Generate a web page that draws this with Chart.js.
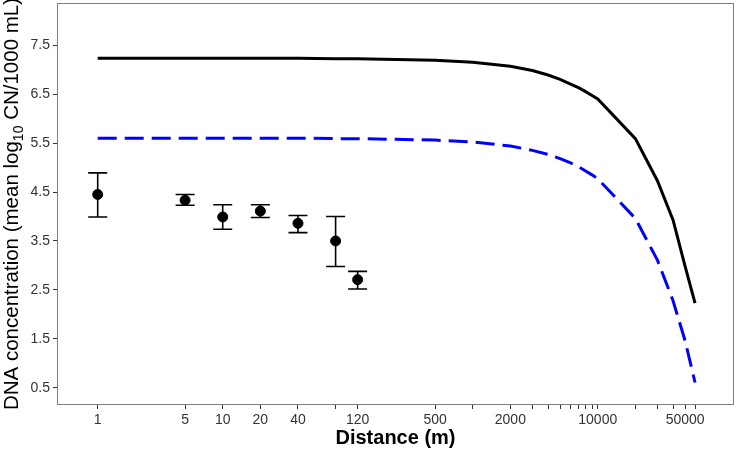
<!DOCTYPE html>
<html><head><meta charset="utf-8">
<script src="https://cdn.jsdelivr.net/npm/chart.js@4.4.1/dist/chart.umd.min.js"></script>
<style>html,body{margin:0;padding:0;background:#fff;} #wrap{width:736px;height:449px;position:relative;}</style>
</head><body><div id="wrap"><canvas id="c" width="736" height="449"></canvas></div>
<script>
const obsDistance = [1, 5, 10, 20, 40, 80, 120];
const obsMean = [4.45, 4.33, 3.99, 4.11, 3.86, 3.50, 2.71];
const obsLow  = [3.99, 4.23, 3.74, 3.98, 3.67, 2.98, 2.52];
const obsHigh = [4.89, 4.45, 4.24, 4.24, 4.02, 4.00, 2.88];

const curveDistance = [1, 5, 10, 20, 40, 80, 120, 500, 1000, 2000, 3000, 4000, 5000, 6000, 7000, 8000, 9000, 10000, 20000, 30000, 40000, 50000, 60000];
const blackCurve = [7.23, 7.23, 7.23, 7.23, 7.23, 7.22, 7.22, 7.19, 7.15, 7.07, 6.98, 6.89, 6.80, 6.71, 6.63, 6.55, 6.47, 6.40, 5.59, 4.73, 3.93, 2.98, 2.23];
const blueCurve  = [5.60, 5.60, 5.60, 5.60, 5.60, 5.59, 5.59, 5.56, 5.52, 5.44, 5.35, 5.27, 5.18, 5.10, 5.02, 4.93, 4.85, 4.77, 3.96, 3.11, 2.28, 1.46, 0.61];

const xTickValues = [1, 5, 10, 20, 40, 80, 120, 500, 1000, 2000, 3000, 4000, 5000, 6000, 7000, 8000, 9000, 10000, 20000, 30000, 40000, 50000, 60000];
const xTickLabels = ['1', '5', '10', '20', '40', '', '120', '500', '', '2000', '', '', '', '', '', '', '', '10000', '', '', '', '50000', ''];
const yTickValues = [0.5, 1.5, 2.5, 3.5, 4.5, 5.5, 6.5, 7.5];
const yTickLabels = ['0.5', '1.5', '2.5', '3.5', '4.5', '5.5', '6.5', '7.5'];

const FONT = "'Liberation Sans', Arial, Helvetica, sans-serif";

const errorBars = {
  id: 'errorBars',
  beforeDatasetsDraw(chart) {
    const {ctx, scales: {x, y}} = chart;
    ctx.save();
    ctx.strokeStyle = '#000';
    ctx.lineWidth = 1.6;
    for (let i = 0; i < obsDistance.length; i++) {
      const px = x.getPixelForValue(obsDistance[i]);
      const lo = y.getPixelForValue(obsLow[i]);
      const hi = y.getPixelForValue(obsHigh[i]);
      ctx.beginPath();
      ctx.moveTo(px, lo); ctx.lineTo(px, hi);
      ctx.moveTo(px - 9.5, lo); ctx.lineTo(px + 9.5, lo);
      ctx.moveTo(px - 9.5, hi); ctx.lineTo(px + 9.5, hi);
      ctx.stroke();
    }
    ctx.restore();
  }
};

const frameAndTitles = {
  id: 'frameAndTitles',
  afterDraw(chart) {
    const {ctx, chartArea: a} = chart;
    ctx.save();
    ctx.strokeStyle = '#7f7f7f';
    ctx.lineWidth = 1;
    ctx.strokeRect(a.left + 0.5, a.top + 0.5, a.right - a.left - 1, a.bottom - a.top - 1);

    ctx.fillStyle = '#000';
    ctx.font = 'bold 20px ' + FONT;
    ctx.textAlign = 'center';
    ctx.textBaseline = 'alphabetic';
    ctx.fillText('Distance (m)', (a.left + a.right) / 2, 444);

    const parts = [
      {t: 'DNA concentration (mean log', f: '20.5px ' + FONT, dy: 0},
      {t: '10', f: '14px ' + FONT, dy: 5},
      {t: ' CN/1000 mL)', f: '20.5px ' + FONT, dy: 0}
    ];
    let total = 0;
    parts.forEach(p => { ctx.font = p.f; p.w = ctx.measureText(p.t).width; total += p.w; });
    ctx.translate(0, (a.top + a.bottom) / 2);
    ctx.rotate(-Math.PI / 2);
    ctx.textAlign = 'left';
    let cx = -total / 2;
    parts.forEach(p => { ctx.font = p.f; ctx.fillText(p.t, cx, 18 + p.dy); cx += p.w; });
    ctx.restore();
  }
};

new Chart(document.getElementById('c'), {
  type: 'scatter',
  data: {
    datasets: [
      {
        type: 'line',
        data: curveDistance.map((d, i) => ({x: d, y: blackCurve[i]})),
        borderColor: '#000', borderWidth: 3, pointRadius: 0, tension: 0, fill: false
      },
      {
        type: 'line',
        data: curveDistance.map((d, i) => ({x: d, y: blueCurve[i]})),
        borderColor: '#0000ff', borderWidth: 3, borderDash: [19, 8], pointRadius: 0, tension: 0, fill: false
      },
      {
        type: 'scatter',
        data: obsDistance.map((d, i) => ({x: d, y: obsMean[i]})),
        backgroundColor: '#000', borderColor: '#000', pointRadius: 5, pointHoverRadius: 5
      }
    ]
  },
  options: {
    responsive: false,
    animation: false,
    events: [],
    layout: {autoPadding: false, padding: {top: 3, right: 2, left: 0, bottom: 0}},
    plugins: {legend: {display: false}, tooltip: {enabled: false}, title: {display: false}},
    scales: {
      x: {
        type: 'logarithmic',
        min: 0.4725, max: 123000,
        border: {display: false},
        grid: {display: true, drawOnChartArea: false, drawTicks: true, tickLength: 4, color: '#333', lineWidth: 1},
        afterBuildTicks(scale) { scale.ticks = xTickValues.map(v => ({value: v})); },
        afterFit(scale) { scale.height = 44; scale.paddingLeft = 0; scale.paddingRight = 0; },
        ticks: {
          autoSkip: false, maxRotation: 0, minRotation: 0, padding: 3,
          color: '#333', font: {family: FONT, size: 14},
          callback(value) { const k = xTickValues.indexOf(value); return k >= 0 ? xTickLabels[k] : ''; }
        }
      },
      y: {
        type: 'linear',
        min: 0.15, max: 8.36,
        border: {display: false},
        grid: {display: true, drawOnChartArea: false, drawTicks: true, tickLength: 4, color: '#333', lineWidth: 1},
        afterBuildTicks(scale) { scale.ticks = yTickValues.map(v => ({value: v})); },
        afterFit(scale) { scale.width = 57; scale.paddingTop = 0; scale.paddingBottom = 0; },
        ticks: {
          padding: 3, color: '#333', font: {family: FONT, size: 14},
          callback(value) { const k = yTickValues.indexOf(value); return k >= 0 ? yTickLabels[k] : ''; }
        }
      }
    }
  },
  plugins: [errorBars, frameAndTitles]
});
</script>
</body></html>
